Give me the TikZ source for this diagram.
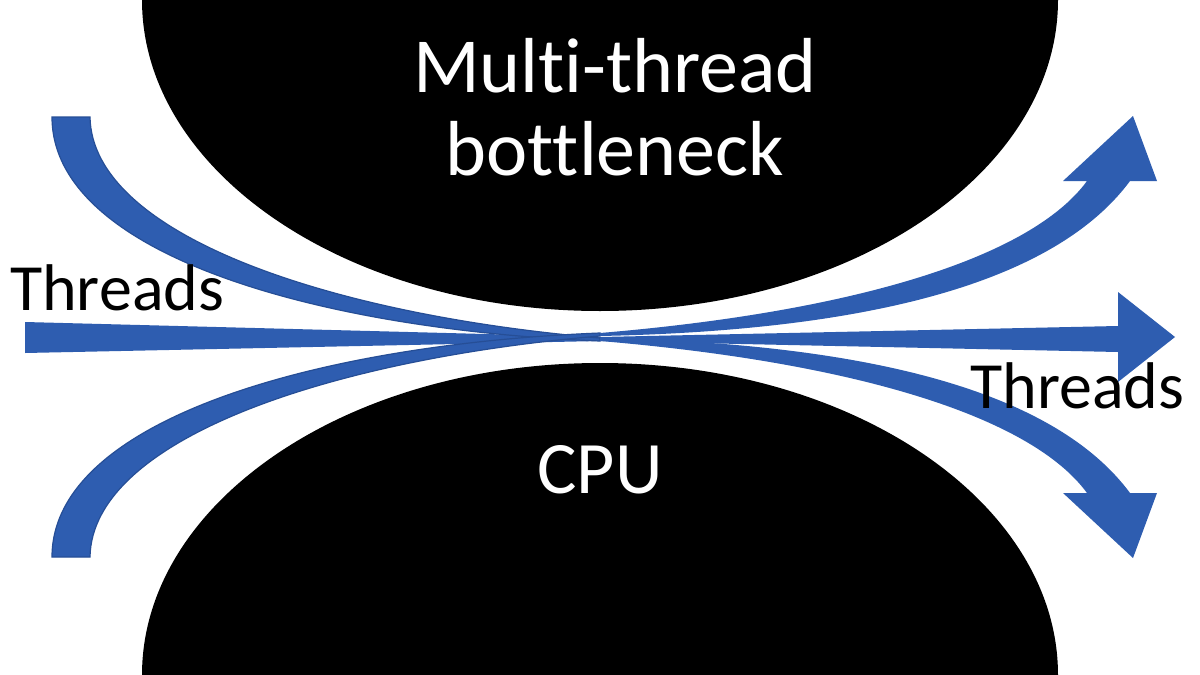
\documentclass[tikz,border=0pt]{standalone}
\usepackage{fontspec}
\setmainfont[Ligatures=NoCommon]{Carlito}
\definecolor{threadblue}{RGB}{46,93,176}
\definecolor{threadedge}{RGB}{38,78,150}
\tikzset{
  blob/.style={fill=black},
  thread/.style={fill=threadblue},
  threadtail/.style={fill=threadblue, draw=threadedge, line width=1.2},
  bigtxt/.style={inner sep=0pt, font=\fontsize{78}{83}\selectfont},
  thrtxt/.style={inner sep=0pt, font=\fontsize{66}{70}\selectfont}
}
\begin{document}
\begin{tikzpicture}[x=1pt,y=1pt,yscale=-1]
\useasboundingbox (0,0) rectangle (1200,675);
\fill[white] (0,0) rectangle (1200,675);

%Half ellipses
\fill[blob] (142,0) arc[start angle=180, end angle=0, x radius=458, y radius=311];
\fill[blob] (142,675) arc[start angle=180, end angle=360, x radius=458, y radius=312];

%Straight arrow
\fill[thread] (25,322) -- (600,337) -- (1118,326) -- (1118,292) -- (1175,337)
   -- (1118,382) -- (1118,352) -- (600,341) -- (25,353) -- cycle;

%Curved arrows, the lower one is the mirror of the upper one
\foreach \s in {1,-1}{
\begin{scope}[shift={(0,337)}, yscale=\s, shift={(0,-337)}]
\draw[threadtail] (52,117) -- (90,117) .. controls (92,235) and (330,315) .. (600,338)
   -- (600,341) .. controls (320,330) and (52,255) .. (52,117) -- cycle;
\fill[thread] (600,338) .. controls (850,343) and (1050,385) .. (1130,493)
   -- (1157,493) -- (1133,558) -- (1063,493) -- (1087,493)
   .. controls (1030,415) and (850,362) .. (600,341) -- cycle;
\end{scope}
}

% Text Node
\draw (615,175) node (neck) [bigtxt, align=center, anchor=base, text=white] {Multi-thread\\bottleneck};
% Text Node
\draw (600,493) node (cpu) [bigtxt, font=\fontsize{74}{78}\selectfont, anchor=base, text=white] {CPU};
% Text Node
\draw (10,310) node (thrin) [thrtxt, anchor=base west] {Threads};
% Text Node
\draw (970,408) node (throut) [thrtxt, anchor=base west] {Threads};

\end{tikzpicture}
\end{document}
